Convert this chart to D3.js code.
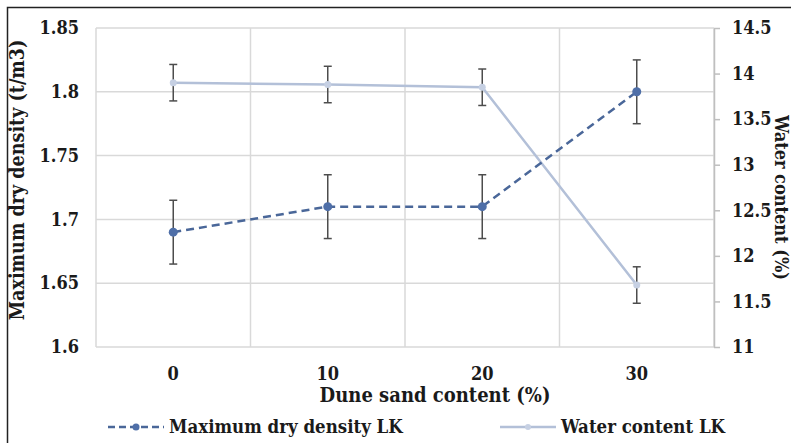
<!DOCTYPE html>
<html>
<head>
<meta charset="utf-8">
<script src="https://cdn.jsdelivr.net/npm/d3@7"></script>
<style>
  body { margin: 0; background: #fff; }
</style>
</head>
<body>
<div id="chart"></div>
<script>
// categories (dune sand content, %)
const sandContent = ["0", "10", "20", "30"];
// maximum dry density (t/m3) and its error
const dryDensity = [1.69, 1.71, 1.71, 1.80];
const dryDensityErr = [0.025, 0.025, 0.025, 0.025];
// water content (%) and its error
const waterContent = [13.9, 13.88, 13.85, 11.68];
const waterContentErr = [0.2, 0.2, 0.2, 0.2];
// tick labels
const leftTicks = [1.6, 1.65, 1.7, 1.75, 1.8, 1.85];
const rightTicks = [11, 11.5, 12, 12.5, 13, 13.5, 14, 14.5];

const W = 791, H = 443;
const margin = { top: 28, right: 77, bottom: 96, left: 96 };
const iw = W - margin.left - margin.right;
const ih = H - margin.top - margin.bottom;

const FONT = "'DejaVu Serif Condensed', 'DejaVu Serif', serif";
const densityColor = "#4a6799";
const waterColor = "#b3c0d8";
const errColor = "#4d4d4d";
const gridColor = "#d9d9d9";

const svg = d3.select("#chart").append("svg")
    .attr("width", W)
    .attr("height", H);

function styleText(sel, size) {
    sel.attr("font-family", FONT)
        .style("font-family", FONT)
        .style("font-weight", "bold")
        .style("font-stretch", "condensed")
        .style("font-size", size + "px")
        .attr("fill", "#1a1a1a");
}

// outer frame
svg.append("rect")
    .attr("x", 7.5).attr("y", 7.5)
    .attr("width", W).attr("height", H)
    .attr("fill", "none")
    .attr("stroke", "#222")
    .attr("stroke-width", 1.5);

const g = svg.append("g").attr("transform", `translate(${margin.left},${margin.top})`);

const x = d3.scaleBand().domain(sandContent).range([0, iw]);
const yL = d3.scaleLinear().domain([1.6, 1.85]).range([ih, 0]);
const yR = d3.scaleLinear().domain([11, 14.5]).range([ih, 0]);

// horizontal gridlines
g.append("g")
    .selectAll("line")
    .data(leftTicks)
    .join("line")
    .attr("x1", 0).attr("x2", iw)
    .attr("y1", d => yL(d)).attr("y2", d => yL(d))
    .attr("stroke", gridColor)
    .attr("stroke-width", 1.5);

// vertical gridlines at band edges
const edges = sandContent.map(d => x(d)).concat([iw]);
g.append("g")
    .selectAll("line")
    .data(edges)
    .join("line")
    .attr("x1", d => d).attr("x2", d => d)
    .attr("y1", 0).attr("y2", ih)
    .attr("stroke", gridColor)
    .attr("stroke-width", 1.5);

// left axis labels
const leftAxis = g.append("g")
    .call(d3.axisLeft(yL).tickValues(leftTicks).tickSize(0).tickPadding(17)
        .tickFormat(d => String(+d.toFixed(2))));
leftAxis.select(".domain").remove();
styleText(leftAxis.selectAll("text"), 18);

// right axis
const rightAxis = g.append("g")
    .attr("transform", `translate(${iw},0)`)
    .call(d3.axisRight(yR).tickValues(rightTicks).tickSize(6).tickSizeOuter(0).tickPadding(12)
        .tickFormat(d => String(d)));
rightAxis.select(".domain").attr("stroke", "#bfbfbf").attr("stroke-width", 1.5);
rightAxis.selectAll(".tick line").attr("stroke", "#bfbfbf").attr("stroke-width", 1.5);
styleText(rightAxis.selectAll("text"), 18);

// bottom axis labels
const bottomAxis = g.append("g")
    .attr("transform", `translate(0,${ih})`)
    .call(d3.axisBottom(x).tickSize(0).tickPadding(20));
bottomAxis.select(".domain").remove();
styleText(bottomAxis.selectAll("text"), 18);

const cx = d => x(d) + x.bandwidth() / 2;

// error bars
function errorBars(values, errs, scale) {
    const eg = g.append("g");
    sandContent.forEach((c, i) => {
        const top = scale(values[i] + errs[i]);
        const bot = scale(values[i] - errs[i]);
        eg.append("line")
            .attr("x1", cx(c)).attr("x2", cx(c))
            .attr("y1", top).attr("y2", bot)
            .attr("stroke", errColor).attr("stroke-width", 1.5);
        [top, bot].forEach(yy => {
            eg.append("line")
                .attr("x1", cx(c) - 4).attr("x2", cx(c) + 4)
                .attr("y1", yy).attr("y2", yy)
                .attr("stroke", errColor).attr("stroke-width", 1.5);
        });
    });
}

// water content series
const waterLine = d3.line()
    .x((d, i) => cx(sandContent[i]))
    .y(d => yR(d));
g.append("path")
    .datum(waterContent)
    .attr("d", waterLine)
    .attr("fill", "none")
    .attr("stroke", waterColor)
    .attr("stroke-width", 2.5);
errorBars(waterContent, waterContentErr, yR);
g.append("g")
    .selectAll("circle")
    .data(waterContent)
    .join("circle")
    .attr("cx", (d, i) => cx(sandContent[i]))
    .attr("cy", d => yR(d))
    .attr("r", 3.5)
    .attr("fill", "#c6d0e3");

// dry density series
const densityLine = d3.line()
    .x((d, i) => cx(sandContent[i]))
    .y(d => yL(d));
g.append("path")
    .datum(dryDensity)
    .attr("d", densityLine)
    .attr("fill", "none")
    .attr("stroke", densityColor)
    .attr("stroke-width", 2.5)
    .attr("stroke-dasharray", "8,5");
errorBars(dryDensity, dryDensityErr, yL);
g.append("g")
    .selectAll("circle")
    .data(dryDensity)
    .join("circle")
    .attr("cx", (d, i) => cx(sandContent[i]))
    .attr("cy", d => yL(d))
    .attr("r", 4.5)
    .attr("fill", "#4f6fa8");

// axis titles
styleText(svg.append("text")
    .attr("transform", `translate(24,180) rotate(-90)`)
    .attr("text-anchor", "middle")
    .text("Maximum dry density (t/m3)"), 19.5);

styleText(svg.append("text")
    .attr("transform", `translate(775,${margin.top + ih / 2 + 10}) rotate(90)`)
    .attr("text-anchor", "middle")
    .text("Water content (%)"), 18);

styleText(svg.append("text")
    .attr("x", 435).attr("y", 402)
    .attr("text-anchor", "middle")
    .text("Dune sand content (%)"), 20);

// legend
const legend = svg.append("g");
const legendItems = [
    { label: "Maximum dry density LK", x0: 108, color: densityColor, dash: "7,4", r: 3.5, mfill: "#4f6fa8" },
    { label: "Water content LK", x0: 500, color: waterColor, dash: null, r: 3, mfill: "#c6d0e3" }
];
legendItems.forEach(it => {
    legend.append("line")
        .attr("x1", it.x0).attr("x2", it.x0 + 56)
        .attr("y1", 427).attr("y2", 427)
        .attr("stroke", it.color)
        .attr("stroke-width", 2.5)
        .attr("stroke-dasharray", it.dash);
    legend.append("circle")
        .attr("cx", it.x0 + 28).attr("cy", 427)
        .attr("r", it.r)
        .attr("fill", it.mfill);
    styleText(legend.append("text")
        .attr("x", it.x0 + 61).attr("y", 433)
        .text(it.label), 18.5);
});
</script>
</body>
</html>
